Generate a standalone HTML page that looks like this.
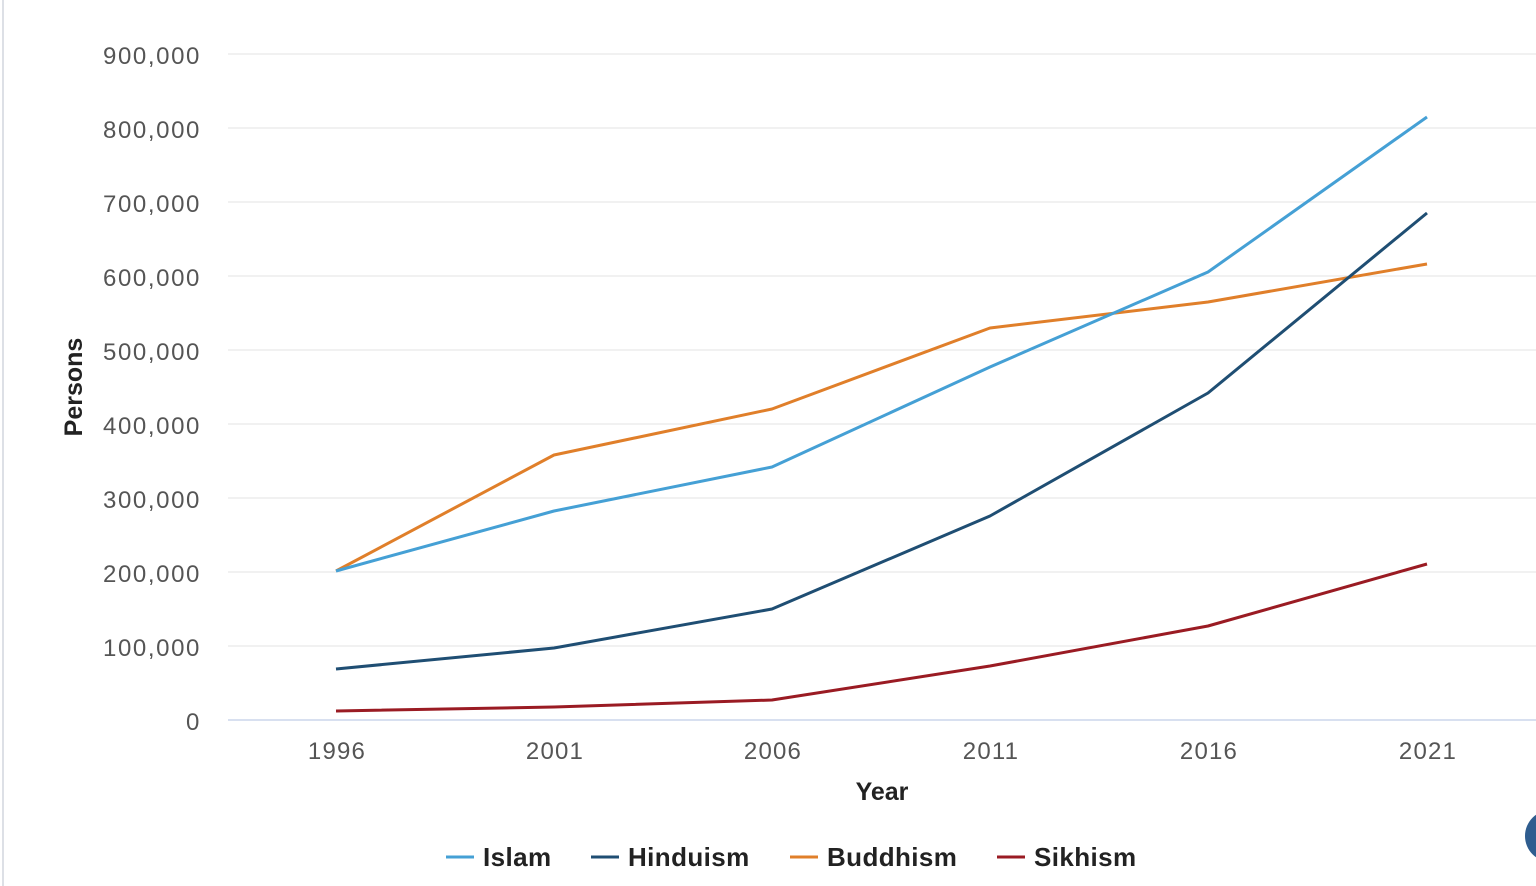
<!DOCTYPE html>
<html><head><style>
html,body{margin:0;padding:0;background:#fff;width:1536px;height:886px;overflow:hidden}
svg{display:block;font-family:"Liberation Sans",sans-serif}
</style></head><body>
<svg width="1536" height="886" viewBox="0 0 1536 886">
<rect x="2" y="0" width="2" height="886" fill="#dde0e6"/>
<g stroke="#e3e3e3" stroke-width="1">
<line x1="228" x2="1536" y1="54" y2="54"/><line x1="228" x2="1536" y1="128" y2="128"/>
<line x1="228" x2="1536" y1="202" y2="202"/><line x1="228" x2="1536" y1="276" y2="276"/>
<line x1="228" x2="1536" y1="350" y2="350"/><line x1="228" x2="1536" y1="424" y2="424"/>
<line x1="228" x2="1536" y1="498" y2="498"/><line x1="228" x2="1536" y1="572" y2="572"/>
<line x1="228" x2="1536" y1="646" y2="646"/>
</g>
<line x1="228" x2="1536" y1="720" y2="720" stroke="#ccd6eb" stroke-width="1.5"/>
<g fill="#555" font-size="24" letter-spacing="1.6" text-anchor="end">
<text x="201" y="64">900,000</text><text x="201" y="138">800,000</text>
<text x="201" y="212">700,000</text><text x="201" y="286">600,000</text>
<text x="201" y="360">500,000</text><text x="201" y="434">400,000</text>
<text x="201" y="508">300,000</text><text x="201" y="582">200,000</text>
<text x="201" y="656">100,000</text><text x="201" y="730">0</text>
</g>
<g fill="#555" font-size="24" letter-spacing="1.2" text-anchor="middle">
<text x="337" y="759">1996</text><text x="555" y="759">2001</text>
<text x="773" y="759">2006</text><text x="991" y="759">2011</text>
<text x="1209" y="759">2016</text><text x="1428" y="759">2021</text>
</g>
<text x="882" y="800" font-size="25" font-weight="bold" fill="#222" text-anchor="middle">Year</text>
<text transform="translate(82,387) rotate(-90)" font-size="25" font-weight="bold" fill="#222" text-anchor="middle">Persons</text>
<g fill="none" stroke-width="3" stroke-linejoin="round">
<polyline stroke="#e07f2a" points="336,571 554,455 772,409 990,328 1208,302 1427,264"/>
<polyline stroke="#45a0d5" points="336,571 554,511 772,467 990,367 1208,272 1427,117"/>
<polyline stroke="#1f4e73" points="336,669 554,648 772,609 990,516 1208,393 1427,213"/>
<polyline stroke="#9a1b23" points="336,711 554,707 772,700 990,666 1208,626 1427,564"/>
</g>
<g font-size="26" font-weight="bold" fill="#222" letter-spacing="0.4">
<line x1="446" x2="474" y1="857" y2="857" stroke="#45a0d5" stroke-width="3"/><text x="483" y="866">Islam</text>
<line x1="591" x2="619" y1="857" y2="857" stroke="#1f4e73" stroke-width="3"/><text x="628" y="866">Hinduism</text>
<line x1="790" x2="818" y1="857" y2="857" stroke="#e07f2a" stroke-width="3"/><text x="827" y="866">Buddhism</text>
<line x1="997" x2="1025" y1="857" y2="857" stroke="#9a1b23" stroke-width="3"/><text x="1034" y="866">Sikhism</text>
</g>
<circle cx="1551" cy="836" r="26" fill="#2f5d8f"/>
</svg>
</body></html>
